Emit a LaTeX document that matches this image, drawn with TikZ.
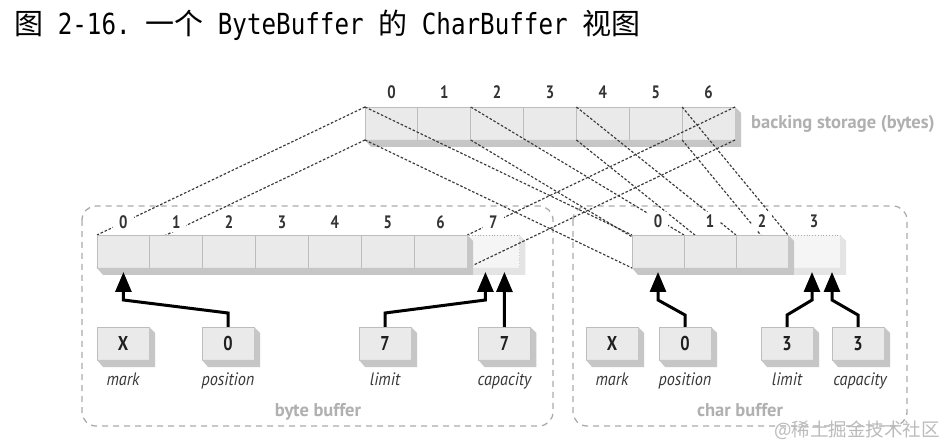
\documentclass[tikz,border=0pt]{standalone}
\usepackage{fontspec}
\setmainfont{PT Sans}
\newfontfamily\dfont[FakeStretch=0.82]{PT Sans}
\newfontfamily\lfont[FakeStretch=0.9]{PT Sans}
\newfontfamily\cjk{Noto Sans CJK SC}
\newfontfamily\tmono[FakeStretch=0.835]{DejaVu Sans Mono}
\usetikzlibrary{calc,arrows.meta}
\pgfdeclarelayer{paper}
\pgfdeclarelayer{bg}
\pgfdeclarelayer{lines}
\pgfsetlayers{paper,bg,lines,main}
\definecolor{facec}{HTML}{EAEAEA}
\definecolor{shc}{HTML}{C6C6C6}
\definecolor{divc}{HTML}{BDBDBD}
\definecolor{ghostf}{HTML}{F5F5F5}
\definecolor{ghostd}{HTML}{A8A8A8}
\definecolor{ghostsh}{HTML}{E4E4E4}
\definecolor{mapc}{HTML}{3A3A3A}
\definecolor{contc}{HTML}{ABABAB}
\definecolor{idxc}{HTML}{333333}
\definecolor{glabc}{HTML}{B0B0B0}
\definecolor{wmc}{HTML}{BBBBBB}
\newcommand\extrude[3]{\fill[#3] (#1.south west) -- ++(6,7) -- ($(#2.south east)+(6,7)$) -- ($(#2.north east)+(6,6)$) -- (#2.north east) -- (#2.south east) -- cycle;}
\newcommand\tm[1]{{\tmono\fontsize{29}{32}\selectfont #1}}
\newcommand\tsp{\hspace{14.6pt}}
\begin{document}
\begin{tikzpicture}[x=1pt,y=-1pt,
 cell/.style={rectangle,draw=divc,line width=0.8pt,fill=facec,minimum width=52.857pt,minimum height=33pt,inner sep=0pt,outer sep=0pt},
 ccell/.style={cell,minimum width=52pt},
 ghost/.style={rectangle,draw=ghostd,line width=0.8pt,dotted,fill=ghostf,minimum width=52pt,minimum height=33pt,inner sep=0pt,outer sep=0pt},
 idx/.style={anchor=base,font=\dfont\bfseries\fontsize{18}{19}\selectfont,text=idxc,fill=white,inner xsep=6pt,inner ysep=3pt},
 map/.style={draw=mapc,line width=1.15pt,dash pattern=on 2.6pt off 1.8pt},
 cont/.style={draw=contc,line width=1.3pt,dash pattern=on 6pt off 5pt,rounded corners=14pt},
 vbox/.style={rectangle,draw=divc,line width=0.6pt,fill=facec,minimum width=52pt,minimum height=33pt,inner sep=0pt,outer sep=0pt,font=\dfont\bfseries\fontsize{20}{21}\selectfont,text=black!88},
 vlab/.style={anchor=base,inner sep=0pt,font=\lfont\itshape\fontsize{18}{20}\selectfont,text=black!78},
 glab/.style={anchor=base,inner sep=0pt,font=\bfseries\fontsize{18.5}{20}\selectfont,text=glabc},
 ptr/.style={line width=3pt,-{Triangle[length=20pt,width=16pt]}}
]
\useasboundingbox (0,0) rectangle (948,446);
\begin{pgfonlayer}{paper}
\fill[white] (0,0) rectangle (948,446);
\end{pgfonlayer}

% title
\node[anchor=base west,inner sep=0pt] (title) at (14,35) {\cjk\fontsize{29}{32}\selectfont 图\tsp\tm{2-16.}\tsp 一个\tsp\tm{ByteBuffer}\tsp 的\tsp\tm{CharBuffer}\tsp 视图};

\begin{pgfonlayer}{bg}
% containers
\draw[cont] (82,206) rectangle (553,426);
\draw[cont] (573,206) rectangle (907,426);
% backing storage
\foreach \i in {0,...,6} {
  \node[cell] (bk\i) at ({391.43+\i*52.857},123.5) {};
  \node[idx] (bkn\i) at ({391.43+\i*52.857},99) {\i};
}
\extrude{bk0}{bk6}{shc}
% ghost cells
\node[ghost] (bb7) at ({123.43+7*52.857},251.5) {};
\extrude{bb7}{bb7}{ghostsh}
\node[ghost] (cc3) at (814,251.5) {};
\extrude{cc3}{cc3}{ghostsh}
\end{pgfonlayer}

\node[glab,anchor=base west] (bklab) at (751,129) {backing storage (bytes)};

% byte buffer cells
\foreach \i in {0,...,6} {
  \node[cell] (bb\i) at ({123.43+\i*52.857},251.5) {};
}
\extrude{bb0}{bb6}{shc}
\foreach \i in {0,...,7} {
  \node[idx] (bbn\i) at ({123.43+\i*52.857},229) {\i};
}
% char buffer cells
\foreach \i in {0,1,2} {
  \node[ccell] (cc\i) at ({658+\i*52},251.5) {};
}
\extrude{cc0}{cc2}{shc}
\foreach \i in {0,...,3} {
  \node[idx] (ccn\i) at ({658+\i*52},228) {\i};
}

% mapping lines
\begin{pgfonlayer}{lines}
\draw[map] (bk0.north west) -- (bb0.north west);
\draw[map] (bk0.south west) -- (bb0.south west);
\draw[map] (bk6.north east) -- (bb7.north west);
\draw[map] (bk6.south east) -- (bb7.south west);
\draw[map] (bk0.north west) -- (cc0.north west);
\draw[map] (bk0.south west) -- (cc0.south west);
\draw[map] (bk2.north west) -- (cc1.north west);
\draw[map] (bk2.south west) -- (cc1.south west);
\draw[map] (bk4.north west) -- (cc2.north west);
\draw[map] (bk4.south west) -- (cc2.south west);
\draw[map] (bk6.north west) -- (cc3.north west);
\draw[map] (bk6.south west) -- (cc3.south west);
\end{pgfonlayer}

% value boxes byte buffer
\node[vbox] (vbmark) at (123,343.5) {X};  \extrude{vbmark}{vbmark}{shc}
\node[vbox] (vbpos) at (228,343.5) {0};   \extrude{vbpos}{vbpos}{shc}
\node[vbox] (vblim) at (385,343.5) {7};   \extrude{vblim}{vblim}{shc}
\node[vbox] (vbcap) at (504.4,343.5) {7}; \extrude{vbcap}{vbcap}{shc}
\node[vlab] (lbmark) at (123,385) {mark};
\node[vlab] (lbpos) at (228,385) {position};
\node[vlab] (lblim) at (385,385) {limit};
\node[vlab] (lbcap) at (504.4,385) {capacity};
\node[glab] (bytelab) at (318,416) {byte buffer};

% value boxes char buffer
\node[vbox] (vcmark) at (612,343.5) {X}; \extrude{vcmark}{vcmark}{shc}
\node[vbox] (vcpos) at (685,343.5) {0};  \extrude{vcpos}{vcpos}{shc}
\node[vbox] (vclim) at (787,343.5) {3};  \extrude{vclim}{vclim}{shc}
\node[vbox] (vccap) at (858,343.5) {3};  \extrude{vccap}{vccap}{shc}
\node[vlab] (lcmark) at (612,385) {mark};
\node[vlab] (lcpos) at (685,385) {position};
\node[vlab] (lclim) at (787,385) {limit};
\node[vlab] (lccap) at (860,385) {capacity};
\node[glab] (charlab) at (740,416) {char buffer};

% pointer arrows
\draw[ptr] (vbpos.north) -- ++(0,-14) -- ($(bb0.south)+(0,32)$) -- ($(bb0.south)+(0,4)$);
\draw[ptr] (vblim.north) -- ++(0,-14) -- ($(bb7.south)+(-8,32)$) -- ($(bb7.south)+(-8,4)$);
\draw[ptr] (vbcap.north) -- ($(bb7.south)+(11,4)$);
\draw[ptr] (vcpos.north) -- ++(0,-12) -- ($(cc0.south)+(0,32)$) -- ($(cc0.south)+(0,4)$);
\draw[ptr] (vclim.north) -- ++(0,-12) -- ($(cc3.south)+(-2,32)$) -- ($(cc3.south)+(-2,4)$);
\draw[ptr] (vccap.north) -- ++(0,-12) -- ($(cc3.south)+(18,32)$) -- ($(cc3.south)+(18,4)$);

% watermark
\node[anchor=east,inner sep=0pt,text=wmc,font=\cjk\fontsize{18.5}{20}\selectfont] (wm) at (940,430) {@稀土掘金技术社区};
\end{tikzpicture}
\end{document}
